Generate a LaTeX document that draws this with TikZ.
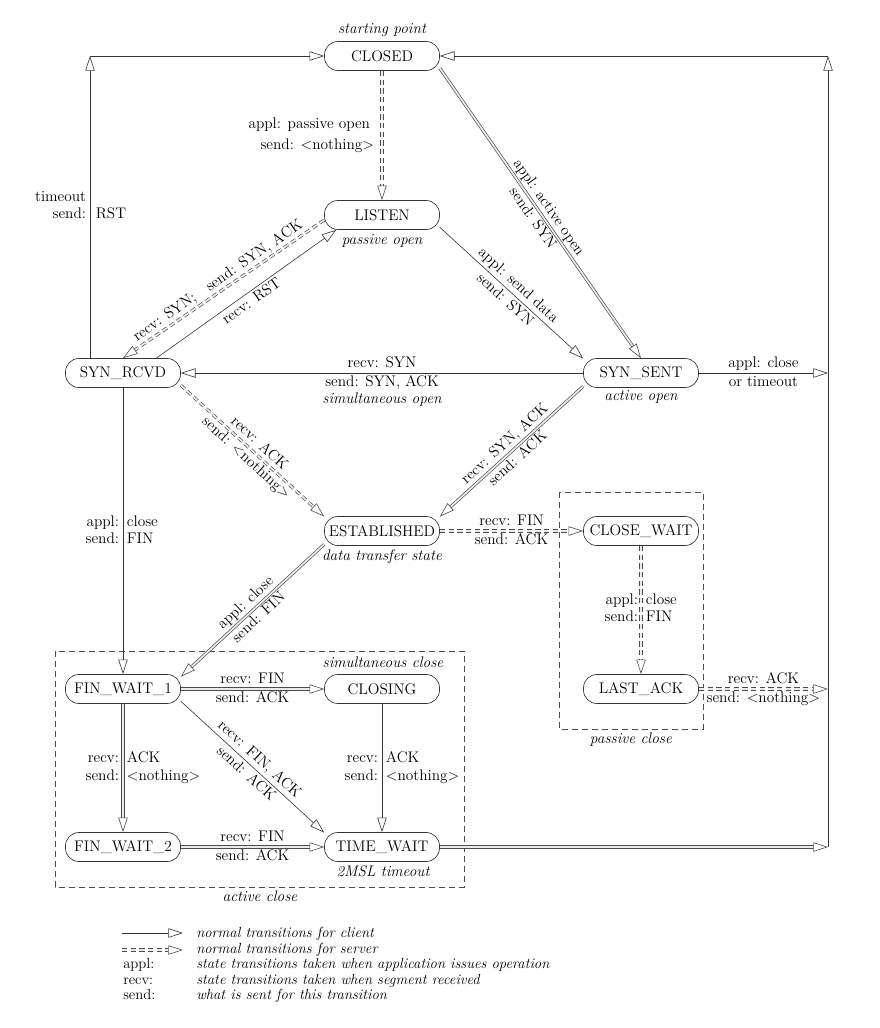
\documentclass[tikz,border=0pt]{standalone}
\usepackage{fontspec}
\usetikzlibrary{arrows.meta,calc}
\begin{document}
\begin{tikzpicture}[x=0.75pt,y=-0.75pt,
  every node/.style={font=\fontsize{11.5}{13}\selectfont},
  stnode/.style={draw=black!80, line width=0.5pt, rounded corners=10pt, minimum width=86.25pt, minimum height=21.75pt, inner sep=0pt},
  arrowtip/.style={-{Triangle[open,length=11pt,width=7pt,line width=0.45pt]}},
  plainline/.style={arrowtip, draw=black!80, line width=0.45pt},
  client/.style={arrowtip, draw=black!70, line width=0.5pt, double=black!8, double distance=1.3pt},
  server/.style={client, dash pattern=on 4pt off 2.5pt},
  lab/.style={inner sep=2pt, text height=8pt, text depth=2.2pt},
  vlab/.style={inner sep=2pt},
  annot/.style={font=\fontsize{11.5}{13}\selectfont\itshape, inner sep=0pt},
  legtext/.style={font=\fontsize{11}{12}\selectfont\itshape, inner sep=0pt, anchor=base west},
  legkey/.style={font=\fontsize{11}{12}\selectfont, inner sep=0pt, anchor=base west},
  dashbox/.style={draw=black!70, line width=0.5pt, dash pattern=on 4.5pt off 3pt},
]
\useasboundingbox (0,0) rectangle (879,1028);

% states
\node[stnode] (CLOSED) at (382,56) {CLOSED};
\node[stnode] (LISTEN) at (382,215) {LISTEN};
\node[stnode] (SYNRCVD) at (123,373) {SYN\_RCVD};
\node[stnode] (SYNSENT) at (641,373) {SYN\_SENT};
\node[stnode] (EST) at (382,531) {ESTABLISHED};
\node[stnode] (CW) at (641,531) {CLOSE\_WAIT};
\node[stnode] (LA) at (641,689) {LAST\_ACK};
\node[stnode] (FW1) at (123,689) {FIN\_WAIT\_1};
\node[stnode] (CLOSING) at (382,689) {CLOSING};
\node[stnode] (FW2) at (123,847) {FIN\_WAIT\_2};
\node[stnode] (TW) at (382,847) {TIME\_WAIT};

% dashed boxes
\draw[dashbox] (55,651) rectangle (464,887);
\draw[dashbox] (559,492) rectangle (703,729);

% corner coordinates
\coordinate (TL) at (90,56);
\coordinate (TR) at (828,56);
\coordinate (R1) at (828,373);
\coordinate (R2) at (828,689);
\coordinate (R3) at (828,847);

% annotations
\node[annot, anchor=base] at (382,33) {starting point};
\node[annot, anchor=base] at (382,244) {passive open};
\node[annot, anchor=base] at (641,400) {active open};
\node[annot, anchor=base] at (382,403) {simultaneous open};
\node[annot, anchor=base] at (382,560) {data transfer state};
\node[annot, anchor=base] at (383,667) {simultaneous close};
\node[annot, anchor=base] at (383,876) {2MSL timeout};
\node[annot, anchor=base] at (260,901) {active close};
\node[annot, anchor=base] at (631,743) {passive close};

% timeout loop to CLOSED
\draw[plainline] (SYNRCVD.north -| TL) -- (TL);
\draw[plainline] (TL) -- (CLOSED.west);
\node[vlab, anchor=base east] at (89,201) {timeout};
\node[vlab, anchor=base east] at (89,218) {send:};
\node[vlab, anchor=base west] at (93,218) {RST};

% CLOSED -> LISTEN
\draw[server] (CLOSED) -- (LISTEN);
\node[vlab, anchor=base east] at (373,128) {appl: passive open};
\node[vlab, anchor=base east] at (377,149) {send: <nothing>};

% CLOSED -> SYN_SENT
\draw[client] (CLOSED.-12) -- node[lab,sloped,above]{appl: active open} node[lab,sloped,below]{send: SYN} (SYNSENT.north);

% LISTEN -> SYN_SENT
\draw[plainline] (LISTEN.-12) -- node[lab,sloped,above]{appl: send data} node[lab,sloped,below]{send: SYN} (SYNSENT.166);

% LISTEN -> SYN_RCVD
\draw[server] (LISTEN.185) -- node[lab,sloped,above]{recv: SYN;\quad send: SYN, ACK} (SYNRCVD.north);

% SYN_RCVD -> LISTEN
\draw[plainline] (SYNRCVD.24) -- node[lab,sloped,below]{recv: RST} (LISTEN.198);

% SYN_SENT -> SYN_RCVD
\draw[plainline] (SYNSENT) -- node[lab,above]{recv: SYN} node[lab,below]{send: SYN, ACK} (SYNRCVD);

% SYN_RCVD -> ESTABLISHED
\draw[server] (SYNRCVD.-12) -- node[lab,sloped,above]{recv: ACK} node[lab,sloped,below]{send: <nothing>} (EST.166);

% SYN_SENT -> ESTABLISHED
\draw[client] (SYNSENT.193) -- node[lab,sloped,above]{recv: SYN, ACK} node[lab,sloped,below]{send: ACK} (EST.14);

% SYN_SENT -> right line
\draw[plainline] (SYNSENT) -- node[lab,above]{appl: close} node[lab,below]{or timeout} (R1);

% SYN_RCVD -> FIN_WAIT_1
\draw[plainline] (SYNRCVD) -- (FW1);
\node[vlab, anchor=base east] at (122,526) {appl:};
\node[vlab, anchor=base west] at (124,526) {close};
\node[vlab, anchor=base east] at (122,543) {send:};
\node[vlab, anchor=base west] at (124,543) {FIN};

% ESTABLISHED -> FIN_WAIT_1
\draw[client] (EST.193) -- node[lab,sloped,above]{appl: close} node[lab,sloped,below]{send: FIN} (FW1.12);

% ESTABLISHED -> CLOSE_WAIT
\draw[server] (EST) -- node[lab,above]{recv: FIN} node[lab,below]{send: ACK} (CW);

% CLOSE_WAIT -> LAST_ACK
\draw[server] (CW) -- (LA);
\node[vlab, anchor=base east] at (641,604) {appl:};
\node[vlab, anchor=base west] at (643,604) {close};
\node[vlab, anchor=base east] at (641,621) {send:};
\node[vlab, anchor=base west] at (643,621) {FIN};

% LAST_ACK -> right line
\draw[server] (LA) -- node[lab,above]{recv: ACK} node[lab,below]{send: <nothing>} (R2);

% FIN_WAIT_1 -> CLOSING
\draw[client] (FW1) -- node[lab,above]{recv: FIN} node[lab,below]{send: ACK} (CLOSING);

% FIN_WAIT_1 -> FIN_WAIT_2
\draw[client] (FW1) -- (FW2);
\node[vlab, anchor=base east] at (122,762) {recv:};
\node[vlab, anchor=base west] at (124,762) {ACK};
\node[vlab, anchor=base east] at (122,780) {send:};
\node[vlab, anchor=base west] at (124,780) {<nothing>};

% FIN_WAIT_1 -> TIME_WAIT
\draw[plainline] (FW1.-12) -- node[lab,sloped,above]{recv: FIN, ACK} node[lab,sloped,below]{send: ACK} (TW.166);

% CLOSING -> TIME_WAIT
\draw[plainline] (CLOSING) -- (TW);
\node[vlab, anchor=base east] at (381,762) {recv:};
\node[vlab, anchor=base west] at (383,762) {ACK};
\node[vlab, anchor=base east] at (381,780) {send:};
\node[vlab, anchor=base west] at (383,780) {<nothing>};

% FIN_WAIT_2 -> TIME_WAIT
\draw[client] (FW2) -- node[lab,above]{recv: FIN} node[lab,below]{send: ACK} (TW);

% TIME_WAIT -> right line
\draw[client] (TW) -- (R3);

% right line up to CLOSED
\draw[plainline] (R3) -- (TR);
\draw[plainline] (TR) -- (CLOSED);

% legend
\coordinate (L1a) at (122,933);
\coordinate (L1b) at (183,933);
\coordinate (L2a) at (122,950);
\coordinate (L2b) at (183,950);
\draw[plainline] (L1a) -- (L1b);
\draw[server] (L2a) -- (L2b);
\node[legtext] at (196,937) {normal transitions for client};
\node[legtext] at (196,953) {normal transitions for server};
\node[legkey] at (123,968) {appl:};
\node[legtext] at (196,968) {state transitions taken when application issues operation};
\node[legkey] at (123,984) {recv:};
\node[legtext] at (196,984) {state transitions taken when segment received};
\node[legkey] at (123,999) {send:};
\node[legtext] at (196,999) {what is sent for this transition};
\end{tikzpicture}
\end{document}
